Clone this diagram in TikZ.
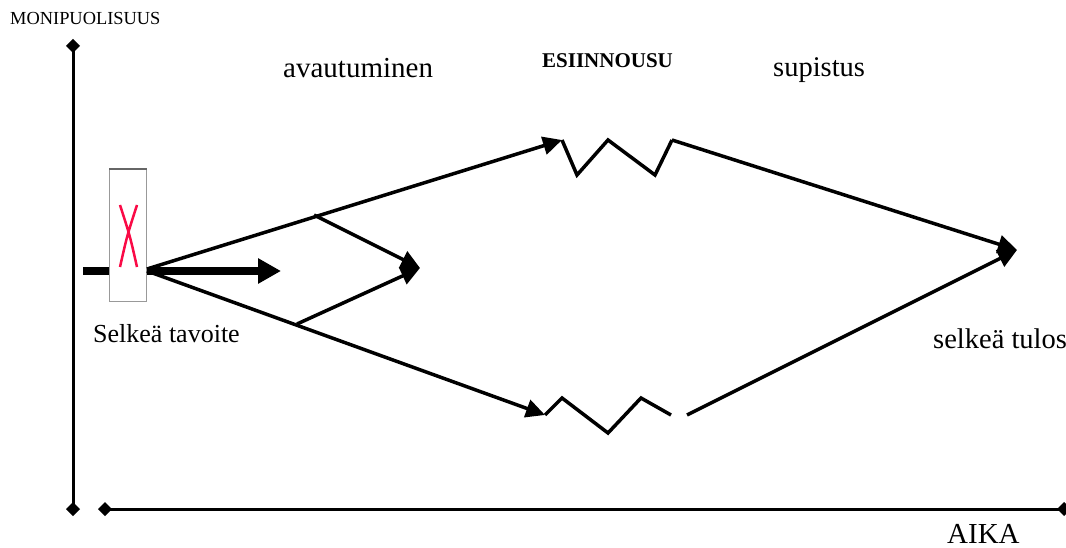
\documentclass[tikz,border=0pt]{standalone}
\usepackage{fontspec}
\setmainfont{Liberation Serif}
\usetikzlibrary{arrows.meta}
\definecolor{xred}{RGB}{250,10,70}
\begin{document}
\begin{tikzpicture}[x=1pt,y=-1pt,
  axis/.style={line width=3pt,{Turned Square[length=14pt,width=14pt]}-{Turned Square[length=14pt,width=14pt]}},
  flow/.style={line width=3.5pt,-{Triangle[length=19pt,width=18pt]}},
  zig/.style={line width=3.5pt},
  thickarrow/.style={line width=8pt,-{Triangle[length=23pt,width=24pt]}},
  lbl/.style={anchor=base west,inner sep=0pt,font=\fontsize{27}{30}\selectfont},
]
\useasboundingbox (0,0) rectangle (1066,548);
% axes
\coordinate (vtop) at (73,39);
\coordinate (vbot) at (73,516);
\coordinate (hl) at (98,509);
\coordinate (hr) at (1071,509);
\draw[line width=3pt,-{Turned Square[length=14pt,width=14pt]}] (vbot) ++(0,-7) -- (vtop);
\draw[line width=3pt,-{Turned Square[length=14pt,width=14pt]}] (73,500) -- (vbot);
\draw[axis] (hl) -- (hr);
% labels
\node[lbl,font=\fontsize{18.4}{20}\selectfont] (mon) at (10,25) {MONIPUOLISUUS};
\node[lbl,font=\fontsize{29}{32}\selectfont] (avt) at (283,78) {avautuminen};
\node[lbl,font=\fontsize{21}{24}\selectfont\bfseries] (esi) at (542,68) {ESIINNOUSU};
\node[lbl,font=\fontsize{28.5}{32}\selectfont] (sup) at (773,77) {supistus};
\node[lbl,font=\fontsize{26}{30}\selectfont] (sel) at (93,342) {Selkeä tavoite};
\node[lbl,font=\fontsize{28.5}{32}\selectfont] (tul) at (933,348) {selkeä tulos};
\node[lbl,font=\fontsize{29}{32}\selectfont] (aika) at (947,543) {AIKA};
% thick arrow
\coordinate (ts) at (83,271);
\coordinate (te) at (281,271);
\draw[thickarrow] (ts) -- (te);
% box
\node[draw=gray!80,line width=1pt,fill=white,minimum width=37pt,minimum height=132pt,inner sep=0pt] (box) at (128,235.5) {};
\draw[gray!80!black,line width=1.3pt] (box.north west) -- (box.north east);
\draw[xred,line width=2.5pt] (120,205) .. controls (130,236) .. (137,267) (137,205) .. controls (127,236) .. (120,267);
% flows
\coordinate (o) at (147,269);
\coordinate (o2) at (147,271);
\coordinate (ua) at (562,140);
\coordinate (la) at (545,415);
\coordinate (bu) at (314,215);
\coordinate (bl) at (297,324);
\coordinate (mid) at (420,268);
\coordinate (goal) at (1017,250);
\draw[flow] (o) -- (ua);
\draw[flow] (o2) -- (la);
\draw[flow] (bu) -- (mid);
\draw[flow] (bl) -- (mid);
\draw[zig] (ua) -- (577,175) -- (608,140) -- (655,175) -- (672,140) coordinate (uz);
\draw[flow] (uz) -- (goal);
\draw[zig] (la) -- (562,398) -- (608,433) -- (641,398) -- (671,415) coordinate (lz);
\coordinate (lz2) at (687,415);
\draw[flow] (lz2) -- (goal);
\end{tikzpicture}
\end{document}
